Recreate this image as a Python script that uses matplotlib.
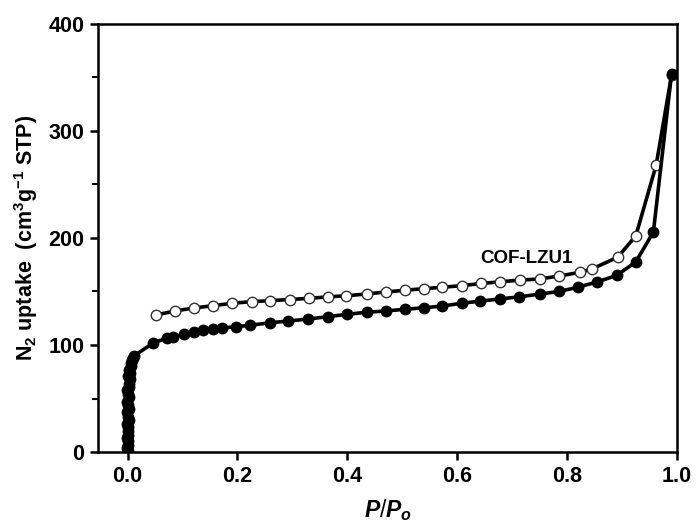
import matplotlib
matplotlib.use("Agg")
import matplotlib.pyplot as plt
from matplotlib.ticker import MultipleLocator

plt.rcParams['font.family'] = ['Liberation Sans', 'DejaVu Sans']
plt.rcParams['mathtext.fontset'] = 'custom'
plt.rcParams['mathtext.rm'] = 'Liberation Sans'
plt.rcParams['mathtext.it'] = 'Liberation Sans:italic:bold'
plt.rcParams['mathtext.bf'] = 'Liberation Sans:bold'
plt.rcParams['mathtext.default'] = 'rm'

# adsorption branch (filled circles)
ads_x = [0.000, -0.001, 0.001, 0.000, -0.001, 0.001, 0.000, 0.001, -0.001, 0.002,
         0.000, -0.002, 0.002, 0.001, -0.002, 0.003, 0.001, -0.001, 0.003, 0.002,
         0.004, 0.001, 0.005, 0.003, 0.006, 0.006, 0.008, 0.010, 0.012,
         0.047, 0.072, 0.083, 0.103, 0.120, 0.137, 0.155, 0.172, 0.197, 0.223,
         0.260, 0.292, 0.329, 0.365, 0.400, 0.435, 0.470, 0.505, 0.539, 0.573,
         0.608, 0.642, 0.677, 0.713, 0.750, 0.785, 0.820, 0.855, 0.890, 0.925,
         0.957, 0.990]
ads_y = [1, 4, 7, 10, 13, 16, 20, 23, 26, 30,
         33, 37, 40, 44, 47, 51, 54, 58, 61, 64,
         68, 71, 74, 77, 80, 83, 86, 88, 90,
         102, 106.5, 107.5, 110, 112, 114, 115, 116, 117, 118.5,
         120.8, 122.4, 124.3, 126.5, 128.7, 130.6, 131.8, 133.4, 134.8, 136.4,
         139, 141, 143, 145, 147.6, 150, 154, 159, 165, 177.6,
         205.6, 353]

# desorption branch (open circles)
des_x = [0.051, 0.086, 0.121, 0.155, 0.190, 0.226, 0.259, 0.295, 0.330, 0.365,
         0.398, 0.435, 0.470, 0.505, 0.539, 0.573, 0.608, 0.643, 0.677, 0.715,
         0.750, 0.786, 0.824, 0.845, 0.892, 0.925, 0.962, 0.990]
des_y = [128, 131.8, 134.6, 136.7, 139, 140.5, 141.4, 142.5, 143.6, 145,
         146, 147.7, 149.5, 151.2, 152.6, 154, 155.4, 157.5, 159, 160.7,
         161.7, 164.5, 168, 171, 182, 202, 268, 352]

fig = plt.figure(figsize=(6.96, 5.27), dpi=100)
ax = fig.add_axes([0.1415, 0.1423, 0.8312, 0.8122])

ax.plot(des_x, des_y, '-', color='black', lw=2.6, marker='o', ms=7.5,
        mfc='white', mec='#333333', mew=1.0)
ax.plot(ads_x, ads_y, '-', color='black', lw=2.6, marker='o', ms=7.5,
        mfc='black', mec='black')

ax.text(0.726, 181, 'COF-LZU1', fontsize=13.5, fontweight='bold', ha='center', va='center')

ax.set_xlim(-0.053, 1.0)
ax.set_ylim(0, 400)
ax.yaxis.set_major_locator(MultipleLocator(100))
ax.yaxis.set_minor_locator(MultipleLocator(50))
ax.set_xticks([0.0, 0.2, 0.4, 0.6, 0.8, 1.0])
ax.set_xticklabels(['0.0', '0.2', '0.4', '0.6', '0.8', '1.0'])

for s in ax.spines.values():
    s.set_linewidth(1.8)
ax.tick_params(which='major', direction='out', length=6, width=1.8,
               labelsize=15.5, pad=4)
ax.tick_params(which='minor', direction='out', length=4, width=1.5)
for lab in ax.get_xticklabels() + ax.get_yticklabels():
    lab.set_fontweight('bold')

ax.set_xlabel(r'$\mathit{P/P_o}$', fontsize=16.5, labelpad=7)
ax.set_ylabel(r'N$_\mathbf{2}$ uptake  (cm$^\mathbf{3}$g$^\mathbf{-1}$ STP)',
              fontsize=15.5, fontweight='bold', labelpad=6)

fig.savefig('out.png', dpi=100)
